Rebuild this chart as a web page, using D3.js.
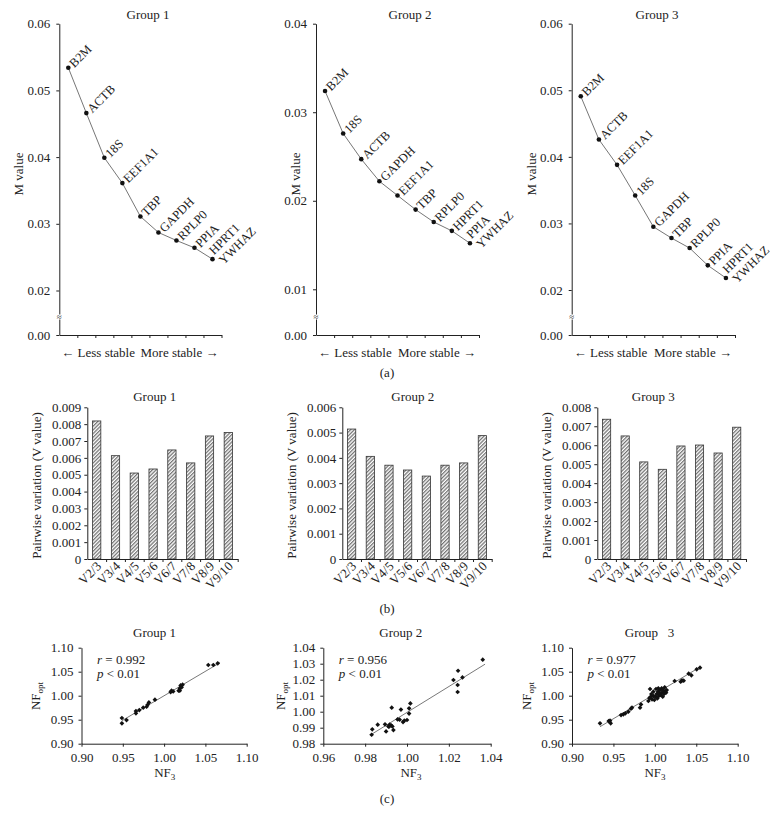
<!DOCTYPE html>
<html><head><meta charset="utf-8">
<script src="https://cdn.jsdelivr.net/npm/d3@7"></script>
<style>
body{margin:0;background:#fff;}
svg{display:block;}
text{font-family:"Liberation Serif","Times New Roman",serif;fill:#222;}
</style>
</head><body><svg id="c" width="777" height="827"></svg>
<script>
// ---------- DATA ----------
// (a) geNorm M values
const mGenes1 = ["B2M","ACTB","18S","EEF1A1","TBP","GAPDH","RPLP0","PPIA","HPRT1/YWHAZ"];
const mValues1 = [0.0534,0.0466,0.0399,0.0361,0.0311,0.0287,0.0275,0.0264,0.0247];
const mGenes2 = ["B2M","18S","ACTB","GAPDH","EEF1A1","TBP","RPLP0","HPRT1","PPIA/YWHAZ"];
const mValues2 = [0.0324,0.0276,0.0247,0.0222,0.0206,0.0190,0.0176,0.0166,0.0152];
const mGenes3 = ["B2M","ACTB","EEF1A1","18S","GAPDH","TBP","RPLP0","PPIA","HPRT1/YWHAZ"];
const mValues3 = [0.0491,0.0426,0.0388,0.0342,0.0295,0.0278,0.0263,0.0237,0.0218];
const mTicks1 = [0,0.02,0.03,0.04,0.05,0.06];
const mTicks2 = [0,0.01,0.02,0.03,0.04];
const mTicks3 = [0,0.02,0.03,0.04,0.05,0.06];

// (b) pairwise variation
const vLabels = ["V2/3","V3/4","V4/5","V5/6","V6/7","V7/8","V8/9","V9/10"];
const vValues1 = [0.00819,0.00613,0.00510,0.00534,0.00647,0.00570,0.00730,0.00750];
const vValues2 = [0.00514,0.00406,0.00371,0.00352,0.00328,0.00371,0.00380,0.00488];
const vValues3 = [0.00737,0.00649,0.00512,0.00473,0.00596,0.00601,0.00559,0.00695];
const vTicks1 = [0,0.001,0.002,0.003,0.004,0.005,0.006,0.007,0.008,0.009];
const vTicks2 = [0,0.001,0.002,0.003,0.004,0.005,0.006];
const vTicks3 = [0,0.001,0.002,0.003,0.004,0.005,0.006,0.007,0.008];

// (c) NF3 vs NFopt
const nf3_1 = [0.9489,0.9489,0.9545,0.9659,0.9659,0.9700,0.9747,0.9788,0.9800,0.9816,0.9889,1.0079,1.0110,1.0090,1.0176,1.0190,1.0200,1.0224,1.0212,1.0190,1.0535,1.0596,1.0649];
const nfopt_1 = [0.9535,0.9424,0.9493,0.9632,0.9680,0.9700,0.9750,0.9770,0.9810,0.9860,0.9917,1.0076,1.0090,1.0104,1.0104,1.0153,1.0215,1.0229,1.0174,1.0104,1.0639,1.0639,1.0674];
const nf3_2 = [0.9831,0.9834,0.9860,0.9895,0.9900,0.9911,0.9917,0.9924,0.9930,0.9914,0.9927,0.9935,0.9955,0.9965,0.9971,0.9981,0.9987,1.0000,1.0010,1.0010,1.0016,1.0222,1.0244,1.0242,1.0242,1.0265,1.0362];
const nfopt_2 = [0.9856,0.9890,0.9919,0.9921,0.9877,0.9908,0.9919,0.9915,0.9908,0.9906,1.0025,0.9885,0.9952,0.9950,1.0013,0.9935,0.9944,0.9948,0.9988,1.0021,1.0052,1.0198,1.0256,1.0167,1.0123,1.0214,1.0325];
const nf3_3 = [0.9338,0.9443,0.9467,0.9459,0.9592,0.9620,0.9644,0.9680,0.9712,0.9724,0.9821,0.9833,0.9922,0.9934,0.9942,0.9950,0.9958,0.9966,0.9982,0.9994,1.0006,1.0014,1.0022,1.0030,1.0038,1.0046,1.0054,1.0062,1.0070,1.0082,1.0086,1.0095,1.0103,1.0111,1.0119,1.0127,1.0135,1.0143,0.9982,1.0042,1.0239,1.0312,1.0328,1.0348,1.0408,1.0441,1.0505,1.0545];
const nfopt_3 = [0.9424,0.9472,0.9424,0.9480,0.9597,0.9611,0.9632,0.9667,0.9729,0.9750,0.9750,0.9819,0.9889,0.9951,1.0139,0.9979,1.0035,0.9924,0.9993,0.9910,0.9979,1.0139,1.0035,0.9944,1.0083,0.9993,1.0049,1.0118,1.0014,1.0153,1.0063,0.9979,1.0110,1.0035,1.0174,1.0083,1.0063,1.0118,1.0083,1.0153,1.0306,1.0292,1.0319,1.0313,1.0458,1.0424,1.0549,1.0583];
// fitted trend lines, [start, end] as [NF3, NFopt]
const fit1 = [[0.9489,0.9479],[1.0677,1.0688]];
const fit2 = [[0.9831,0.9859],[1.0373,1.0297]];
const fit3 = [[0.9338,0.9354],[1.0553,1.0604]];
const rLabels = ["0.992","0.956","0.977"];
const cTicks1 = [0.90,0.95,1.00,1.05,1.10];
const cTicks2x = [0.96,0.98,1.00,1.02,1.04];
const cTicks2y = [0.98,0.99,1.00,1.01,1.02,1.03,1.04];

// ---------- DRAWING ----------
const FS = 13;
const INK = "#222";
const svg = d3.select("#c");
svg.append("rect").attr("width",777).attr("height",827).attr("fill","#fff");

const defs = svg.append("defs");
const pat = defs.append("pattern").attr("id","hatch").attr("patternUnits","userSpaceOnUse")
  .attr("width",2.6).attr("height",2.6).attr("patternTransform","rotate(45)");
pat.append("rect").attr("width",2.6).attr("height",2.6).attr("fill","#fff");
pat.append("line").attr("x1",0.7).attr("y1",0).attr("x2",0.7).attr("y2",2.6)
  .attr("stroke","#3a3a3a").attr("stroke-width",0.9);

function styleAxis(g){
  g.selectAll(".domain").attr("stroke",INK).attr("stroke-width",1);
  g.selectAll(".tick line").attr("stroke",INK).attr("stroke-width",1);
  g.selectAll(".tick text").attr("font-size",FS).attr("font-family",'"Liberation Serif","Times New Roman",serif').attr("fill",INK);
}
function txt(x,y,s,anchor){
  return svg.append("text").attr("x",x).attr("y",y).attr("font-size",FS)
    .attr("text-anchor",anchor||"middle").text(s);
}
function vtxt(cx,cy,s){
  return svg.append("text").attr("transform",`translate(${cx},${cy}) rotate(-90)`)
    .attr("font-size",FS).attr("text-anchor","middle").attr("dy","0.35em").text(s);
}

// ----- (a) -----
const panelA = [
  {genes:mGenes1, values:mValues1, ticks:mTicks1, x0:59.3, x1:221.5, yDom:[0,0.02,0.06], yRan:[335,290.5,23.7], title:"Group 1", tx:148, lx:18},
  {genes:mGenes2, values:mValues2, ticks:mTicks2, x0:316, x1:479, yDom:[0,0.01,0.04], yRan:[335,289.3,23.7], title:"Group 2", tx:410, lx:295},
  {genes:mGenes3, values:mValues3, ticks:mTicks3, x0:571.7, x1:735, yDom:[0,0.02,0.06], yRan:[335,290,23.7], title:"Group 3", tx:657, lx:531}
];
panelA.forEach(p=>{
  const x = d3.scaleBand().domain(p.genes).range([p.x0,p.x1]);
  const y = d3.scaleLinear().domain(p.yDom).range(p.yRan);
  const xi = d3.scaleLinear().domain([0,p.genes.length]).range([p.x0,p.x1]);
  const gy = svg.append("g").attr("transform",`translate(${p.x0},0)`)
    .call(d3.axisLeft(y).tickValues(p.ticks).tickFormat(d3.format(".2f")).tickSize(3).tickSizeOuter(0).tickPadding(6));
  styleAxis(gy);
  const gx = svg.append("g").attr("transform",`translate(0,${p.yRan[0]})`)
    .call(d3.axisBottom(xi).tickValues(d3.range(1,p.genes.length+1)).tickFormat("").tickSize(3).tickSizeOuter(0));
  styleAxis(gx);
  // axis break mark
  const by = p.yRan[0]-18;
  svg.append("rect").attr("x",p.x0-3).attr("y",by-2.5).attr("width",6).attr("height",5).attr("fill","#fff");
  svg.append("text").attr("x",p.x0).attr("y",by).attr("dy","0.33em").attr("font-size",9).attr("text-anchor","middle").text("≈");
  const cx = d=>x(d)+x.bandwidth()/2;
  const line = d3.line().x((d,i)=>cx(p.genes[i])).y(d=>y(d));
  svg.append("path").attr("d",line(p.values)).attr("fill","none").attr("stroke","#666").attr("stroke-width",0.9);
  svg.selectAll(null).data(p.values).enter().append("circle")
    .attr("cx",(d,i)=>cx(p.genes[i])).attr("cy",d=>y(d)).attr("r",2.3).attr("fill","#111");
  p.genes.forEach((g,i)=>{
    const px = cx(g), py = y(p.values[i]);
    const names = g.split("/");
    names.forEach((n,k)=>{
      const dy = names.length===1 ? 0.25 : (k===0 ? -0.25 : 0.85);
      svg.append("text").attr("transform",`translate(${px+2},${py}) rotate(-45)`)
        .attr("dx",2.5).attr("dy",dy+"em").attr("font-size",12.5).text(n);
    });
  });
  txt(p.tx,18.5,p.title);
  vtxt(p.lx,174,"M value");
  txt(p.x0+2,356.5,"← Less stable","start");
  txt(p.x1-3,356.5,"More stable →","end");
});
txt(387,376.5,"(a)");

// ----- (b) -----
const panelB = [
  {values:vValues1, ticks:vTicks1, x0:87.3, x1:237.7, max:0.009, title:"Group 1", tx:154.7, lx:36.7},
  {values:vValues2, ticks:vTicks2, x0:342.3, x1:491.7, max:0.006, title:"Group 2", tx:412.8, lx:291.7},
  {values:vValues3, ticks:vTicks3, x0:597.3, x1:746, max:0.008, title:"Group 3", tx:653.3, lx:546.7}
];
panelB.forEach(p=>{
  const x = d3.scaleBand().domain(vLabels).range([p.x0,p.x1]).paddingInner(0.56).paddingOuter(0.28);
  const y = d3.scaleLinear().domain([0,p.max]).range([559,407.3]);
  const xi = d3.scaleLinear().domain([0,vLabels.length]).range([p.x0,p.x1]);
  svg.selectAll(null).data(p.values).enter().append("rect")
    .attr("x",(d,i)=>x(vLabels[i])).attr("width",x.bandwidth())
    .attr("y",d=>y(d)).attr("height",d=>559-y(d))
    .attr("fill","url(#hatch)").attr("stroke","#333").attr("stroke-width",0.8);
  const gy = svg.append("g").attr("transform",`translate(${p.x0},0)`)
    .call(d3.axisLeft(y).tickValues(p.ticks).tickFormat(d=>d===0?"0":d3.format(".3f")(d)).tickSize(3).tickSizeOuter(0).tickPadding(3));
  styleAxis(gy);
  const gx = svg.append("g").attr("transform",`translate(0,559)`)
    .call(d3.axisBottom(xi).tickValues(d3.range(1,vLabels.length+1)).tickFormat("").tickSize(3).tickSizeOuter(0));
  styleAxis(gx);
  vLabels.forEach(l=>{
    const c = x(l)+x.bandwidth()/2;
    svg.append("text").attr("transform",`translate(${c+5.5},567) rotate(-45)`)
      .attr("font-size",FS).attr("text-anchor","end").text(l);
  });
  txt(p.tx,401,p.title);
  vtxt(p.lx,485.5,"Pairwise variation (V value)");
});
txt(387,612.5,"(b)");

// ----- (c) -----
const panelC = [
  {xs:nf3_1, ys:nfopt_1, fit:fit1, xDom:[0.90,1.10], xRan:[81.5,246.7], yDom:[0.90,1.10], xt:cTicks1, yt:cTicks1, title:"Group 1", tx:154.5, lx:35, nx:164.7, r:rLabels[0]},
  {xs:nf3_2, ys:nfopt_2, fit:fit2, xDom:[0.96,1.04], xRan:[323.3,490.7], yDom:[0.98,1.04], xt:cTicks2x, yt:cTicks2y, title:"Group 2", tx:400.8, lx:280, nx:411, r:rLabels[1]},
  {xs:nf3_3, ys:nfopt_3, fit:fit3, xDom:[0.90,1.10], xRan:[572,737.7], yDom:[0.90,1.10], xt:cTicks1, yt:cTicks1, title:"Group   3", tx:649.5, lx:526, nx:655, r:rLabels[2]}
];
panelC.forEach(p=>{
  const x = d3.scaleLinear().domain(p.xDom).range(p.xRan);
  const y = d3.scaleLinear().domain(p.yDom).range([743.7,647.7]);
  const gy = svg.append("g").attr("transform",`translate(${p.xRan[0]},0)`)
    .call(d3.axisLeft(y).tickValues(p.yt).tickFormat(d3.format(".2f")).tickSize(3).tickSizeOuter(0).tickPadding(5));
  styleAxis(gy);
  const gx = svg.append("g").attr("transform",`translate(0,743.7)`)
    .call(d3.axisBottom(x).tickValues(p.xt).tickFormat(d3.format(".2f")).tickSize(3).tickSizeOuter(0).tickPadding(6));
  styleAxis(gx);
  svg.append("line").attr("x1",x(p.fit[0][0])).attr("y1",y(p.fit[0][1]))
    .attr("x2",x(p.fit[1][0])).attr("y2",y(p.fit[1][1]))
    .attr("stroke","#555").attr("stroke-width",0.8);
  const sym = d3.symbol(d3.symbolSquare,11);
  svg.selectAll(null).data(p.xs).enter().append("path")
    .attr("d",sym).attr("transform",(d,i)=>`translate(${x(d)},${y(p.ys[i])}) rotate(45)`).attr("fill","#111");
  txt(p.tx,636.7,p.title).style("white-space","pre");
  const t1 = svg.append("text").attr("x",p.xRan[0]+15.5).attr("y",663.5).attr("font-size",FS);
  t1.append("tspan").attr("font-style","italic").text("r");
  t1.append("tspan").text(" = "+p.r);
  const t2 = svg.append("text").attr("x",p.xRan[0]+15.5).attr("y",677.5).attr("font-size",FS);
  t2.append("tspan").attr("font-style","italic").text("p");
  t2.append("tspan").text(" < 0.01");
  const nf = svg.append("text").attr("x",p.nx).attr("y",776.5).attr("font-size",FS).attr("text-anchor","middle");
  nf.append("tspan").text("NF");
  nf.append("tspan").attr("font-size",9).attr("dy",3).text("3");
  const no = svg.append("text").attr("transform",`translate(${p.lx},696)`+" rotate(-90)").attr("font-size",FS).attr("text-anchor","middle").attr("dy","0.35em");
  no.append("tspan").text("NF");
  no.append("tspan").attr("font-size",9).attr("dy",3).text("opt");
});
txt(387,803,"(c)");
</script>
</body></html>
